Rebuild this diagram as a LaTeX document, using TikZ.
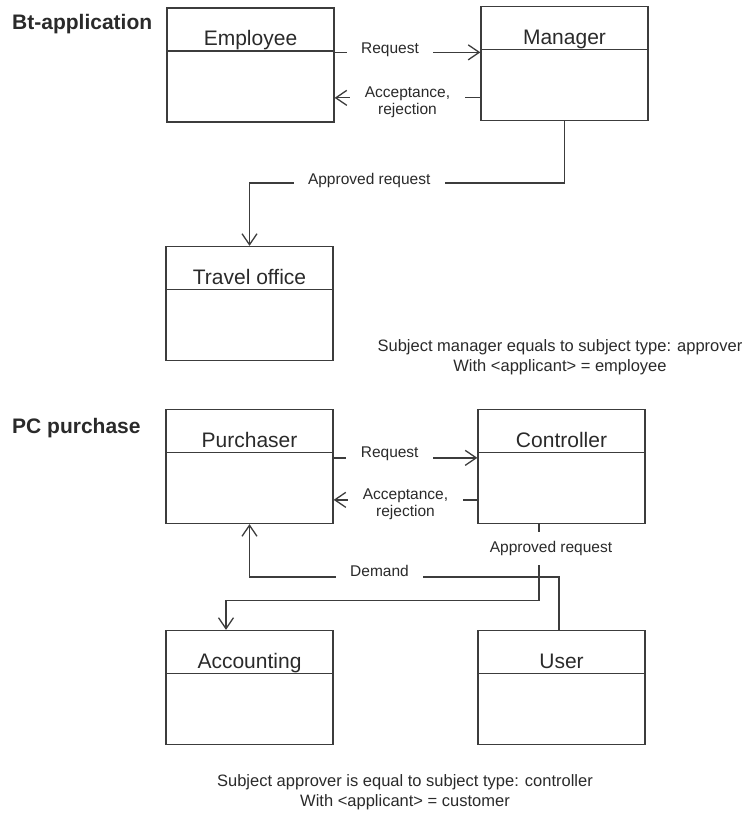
\documentclass[tikz,border=0pt]{standalone}
\usepackage{fontspec}
\setmainfont{Liberation Sans}
\usepackage{tikz}
\usetikzlibrary{arrows.meta,positioning,calc}

\definecolor{linegray}{HTML}{3C3C3C}
\definecolor{textgray}{HTML}{2A2A2A}

\tikzset{
  umlclass/.style={draw=linegray, line width=1.3pt, minimum width=167pt, minimum height=114pt, inner sep=0pt,
    path picture={\draw[linegray, line width=1.3pt]
      ([yshift=-43pt]path picture bounding box.north west) -- ([yshift=-43pt]path picture bounding box.north east);},
    label={[clsname]north:#1}},
  clsname/.style={anchor=base, yshift=-38.5pt, text=textgray, font=\fontsize{21}{25}\selectfont},
  msg/.style={draw=linegray, line width=1.3pt, -{Straight Barb[length=11pt,width=15pt]}},
  lbl/.style={fill=white, text=textgray, inner xsep=14.5pt, inner ysep=2pt, align=center,
    font=\fontsize{15.5}{17}\selectfont},
  grouptitle/.style={anchor=west, inner sep=0pt, text=textgray, font=\fontsize{21}{25}\selectfont\bfseries},
  note/.style={text=textgray, align=center, font=\fontsize{16.5}{19.5}\selectfont}
}

\begin{document}
\begin{tikzpicture}[x=1pt,y=-1pt]
  \useasboundingbox (0,0) rectangle (744,818);

  % Bt-application
  \node[grouptitle] (bt) at (12,24) {Bt-application};
  \node[umlclass=Employee] (emp) at (250.5,65) {};
  \node[umlclass=Manager] (mgr) at (564.5,63.5) {};
  \node[umlclass=Travel office] (trv) at (249.5,303.5) {};

  \coordinate (r1) at ([yshift=-45pt]emp.north east);
  \draw[msg] (r1) -- node[lbl,pos=0.38,yshift=2.5pt] {Request} (r1 -| mgr.west);
  \coordinate (a1) at ([yshift=-92pt]mgr.north west);
  \draw[msg] (a1) -- node[lbl,midway,yshift=-4.5pt] {Acceptance,\\rejection} (a1 -| emp.east);
  \draw[msg] (mgr.south) -- ++(0,62) -| node[lbl,pos=0.31,yshift=2.5pt] {Approved request} (trv.north);

  \node[note] (n1) at (560,357) {Subject manager equals to subject type: approver\\With <applicant> = employee};

  % PC purchase
  \node[grouptitle] (pc) at (12,428) {PC purchase};
  \node[umlclass=Purchaser] (pur) at (249.5,466.5) {};
  \node[umlclass=Controller] (ctl) at (561.5,466.5) {};
  \node[umlclass=Accounting] (acc) at (249.5,687.5) {};
  \node[umlclass=User] (usr) at (561.5,687.5) {};

  \coordinate (r2) at ([yshift=-49pt]pur.north east);
  \draw[msg] (r2) -- node[lbl,pos=0.39,yshift=4pt] {Request} (r2 -| ctl.west);
  \coordinate (a2) at ([yshift=-91pt]ctl.north west);
  \draw[msg] (a2) -- node[lbl,midway,yshift=-4.5pt] {Acceptance,\\rejection} (a2 -| pur.east);
  \draw[msg] ([xshift=-22.5pt]ctl.south) -- node[lbl,pos=0.32,xshift=12pt,inner ysep=9.5pt] {Approved request}
    ++(0,76) -| ([xshift=-23.5pt]acc.north);
  \draw[msg] ([xshift=-2.5pt]usr.north) -- ++(0,-53) -| node[lbl,pos=0.29,yshift=6pt] {Demand} (pur.south);

  \node[note] (n2) at (405,792) {Subject approver is equal to subject type: controller\\With <applicant> = customer};
\end{tikzpicture}
\end{document}
